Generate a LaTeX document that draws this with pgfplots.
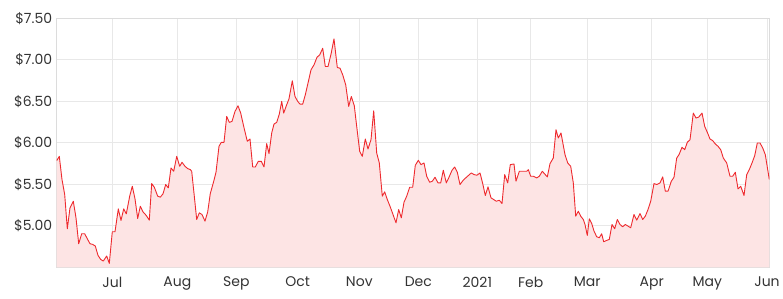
\documentclass[border=0pt]{standalone}
\usepackage{pgfplots}
\usepackage{pgfplotstable}
\pgfplotsset{compat=1.18}
\usepackage{fontspec}
\setmainfont{Poppins}
\definecolor{linered}{HTML}{EE2A2E}
\definecolor{fillpink}{HTML}{FDE4E4}
\definecolor{gridgray}{HTML}{E8E8E8}
\definecolor{boxgray}{HTML}{DCDCDC}
\definecolor{labelgray}{HTML}{333333}
\pgfplotstableread{
x y
56.7 5.785
59.3 5.837
62.0 5.557
64.7 5.377
67.3 4.964
70.0 5.216
73.3 5.296
76.0 5.096
78.7 4.784
81.7 4.904
84.7 4.904
87.3 4.844
90.0 4.784
92.7 4.776
95.3 4.756
98.0 4.644
100.7 4.595
103.3 4.575
106.7 4.636
109.3 4.547
112.3 4.928
115.0 4.928
118.3 5.204
121.0 5.064
123.7 5.204
126.3 5.144
129.7 5.357
132.3 5.477
135.0 5.325
137.7 5.088
140.3 5.236
143.0 5.168
146.3 5.124
149.3 5.068
151.7 5.509
154.3 5.465
157.7 5.357
160.3 5.345
163.0 5.385
165.7 5.497
168.3 5.457
171.0 5.697
173.7 5.657
176.7 5.837
179.7 5.717
182.0 5.765
185.0 5.717
187.7 5.689
190.3 5.677
191.7 5.657
194.3 5.357
196.7 5.076
199.3 5.156
202.0 5.136
205.0 5.056
207.7 5.168
210.3 5.389
213.3 5.517
216.0 5.645
219.0 5.958
221.3 6.006
224.0 6.006
226.7 6.318
229.3 6.246
232.0 6.258
235.0 6.378
238.0 6.446
240.7 6.358
243.7 6.198
247.3 6.018
250.0 6.046
252.7 5.709
255.3 5.709
258.3 5.777
261.3 5.777
264.0 5.709
266.7 5.990
269.0 5.869
271.7 6.118
274.0 6.226
276.7 6.246
279.3 6.346
281.7 6.499
283.7 6.358
286.3 6.446
289.0 6.530
292.3 6.747
295.0 6.558
297.7 6.499
300.0 6.466
302.7 6.466
305.3 6.578
308.0 6.719
311.0 6.879
314.0 6.939
317.0 7.031
319.7 7.059
322.7 7.139
325.3 6.919
328.0 6.919
331.0 7.067
334.0 7.252
337.3 6.907
340.0 6.899
342.7 6.819
345.7 6.699
348.7 6.438
351.3 6.558
354.3 6.446
356.7 6.198
359.7 5.897
362.3 5.837
365.3 6.046
368.0 5.925
371.0 6.038
373.7 6.386
376.7 5.877
379.3 5.757
382.3 5.357
384.7 5.409
387.3 5.316
390.0 5.236
393.0 5.136
396.0 5.036
398.7 5.196
401.3 5.096
404.0 5.284
406.7 5.357
409.7 5.465
412.7 5.465
415.3 5.729
418.3 5.789
421.0 5.737
424.0 5.757
426.7 5.597
429.7 5.525
432.3 5.537
435.0 5.585
438.0 5.517
440.7 5.517
443.3 5.669
446.3 5.517
449.0 5.585
452.0 5.669
454.7 5.709
457.3 5.645
460.0 5.497
463.0 5.545
465.7 5.577
468.3 5.605
471.3 5.637
474.0 5.617
477.0 5.609
480.0 5.637
482.7 5.509
485.3 5.365
488.0 5.469
491.0 5.337
493.7 5.316
496.3 5.296
499.3 5.308
502.0 5.268
504.7 5.617
507.7 5.517
510.3 5.737
514.0 5.745
516.0 5.537
519.3 5.657
523.3 5.657
526.7 5.657
528.3 5.677
530.7 5.597
533.3 5.597
536.7 5.577
539.3 5.597
542.3 5.657
547.3 5.589
550.0 5.749
553.3 5.817
556.0 6.158
558.3 6.058
561.0 6.118
565.0 5.857
567.7 5.757
570.7 5.717
573.3 5.517
575.7 5.116
578.3 5.176
580.7 5.116
583.3 5.076
585.0 5.016
587.3 4.884
589.3 5.084
591.7 5.028
594.0 4.936
596.7 4.868
599.3 4.856
601.7 4.904
603.7 4.808
606.7 4.824
609.3 4.836
612.0 5.016
614.7 4.964
617.3 5.076
620.0 5.016
622.7 4.988
625.3 5.016
628.0 4.996
630.7 4.976
634.0 5.136
636.7 5.068
640.0 5.148
642.7 5.076
645.3 5.116
648.0 5.196
650.7 5.296
654.0 5.509
656.7 5.497
660.0 5.517
662.7 5.589
665.3 5.417
668.0 5.417
671.3 5.537
674.0 5.585
676.7 5.817
679.0 5.857
682.0 5.946
684.7 5.917
687.3 6.006
690.0 6.038
693.3 6.358
696.0 6.298
698.7 6.310
702.0 6.358
704.7 6.198
707.3 6.126
710.0 6.046
712.7 6.026
715.3 5.986
718.0 5.958
720.7 5.917
723.3 5.817
726.7 5.757
730.0 5.597
732.7 5.597
735.3 5.645
738.0 5.445
740.7 5.477
744.0 5.365
746.7 5.617
749.3 5.677
752.0 5.757
754.7 5.845
757.3 5.998
760.0 5.998
762.7 5.938
765.3 5.857
769.3 5.557
}\pricedata
\begin{document}
\begin{tikzpicture}
\useasboundingbox (-56.7pt,-31.7pt) rectangle (726.3pt,267.3pt);
\begin{axis}[
  scale only axis,
  width=712.6pt, height=249pt,
  xmin=56.7, xmax=769.3,
  ymin=4.5, ymax=7.5,
  axis line style={boxgray, line width=0.8pt},
  grid=major,
  major grid style={gridgray, line width=0.8pt},
  major tick length=0pt,
  xtick={112.3,177.3,236.3,297.7,359.3,418.3,477.3,530.7,587.3,651.7,707.3,767},
  xticklabels={Jul,Aug,Sep,Oct,Nov,Dec,2021,Feb,Mar,Apr,May,Jun},
  ytick={5,5.5,6,6.5,7,7.5},
  yticklabels={\$5.00,\$5.50,\$6.00,\$6.50,\$7.00,\$7.50},
  tick label style={font=\fontsize{14}{16}\selectfont, text=labelgray},
  xticklabel style={yshift=-6pt},
  yticklabel style={xshift=-1pt},
  /pgf/number format/assume math mode=true,
  axis on top=false,
  clip=true,
]
\addplot[draw=none, fill=fillpink] table[x=x,y=y]{\pricedata} \closedcycle;
\addplot[linered, line width=0.9pt, mark=none, line join=round] table[x=x,y=y]{\pricedata};
\end{axis}
\end{tikzpicture}
\end{document}
